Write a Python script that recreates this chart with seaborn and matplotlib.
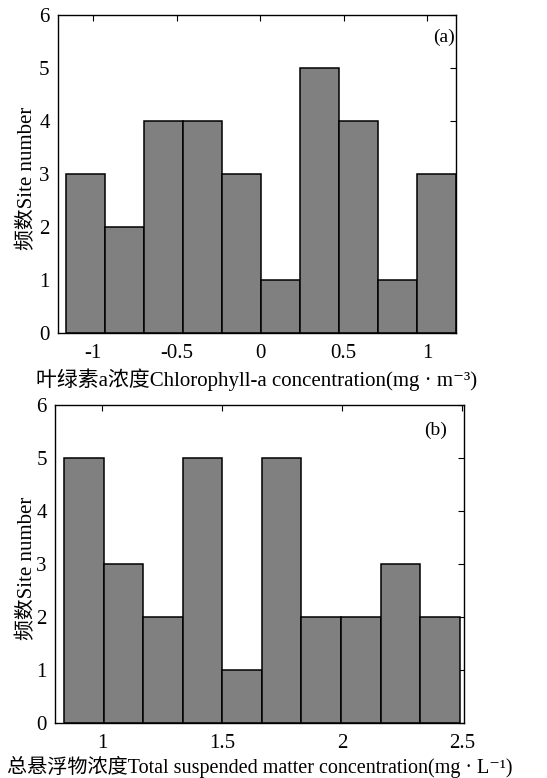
import matplotlib
matplotlib.use("Agg")
import matplotlib.pyplot as plt
import seaborn as sns
import numpy as np
import pandas as pd

# ---- data ----
counts_a = [3, 2, 4, 4, 3, 1, 5, 4, 1, 3]
start_a = -1.163
width_a = 0.234
ticks_a = [-1, -0.5, 0, 0.5, 1]
ticklabels_a = ["-1", "-0.5", "0", "0.5", "1"]

counts_b = [5, 3, 2, 5, 1, 5, 2, 2, 3, 2]
start_b = 0.841
width_b = 0.165
ticks_b = [1, 1.5, 2, 2.5]
ticklabels_b = ["1", "1.5", "2", "2.5"]

yticks = [0, 1, 2, 3, 4, 5, 6]
xlabel_a = "叶绿素a浓度Chlorophyll-a concentration(mg · m⁻³)"
xlabel_b = "总悬浮物浓度Total suspended matter concentration(mg · L⁻¹)"
ylabel = "频数Site number"

sns.set_theme(style="white")
FAM = ['Liberation Serif', 'Noto Sans CJK SC', 'DejaVu Sans']
plt.rcParams['font.family'] = FAM

fig = plt.figure(figsize=(5.47, 7.78), dpi=100)
ax_a = fig.add_axes([0.106, 0.572, 0.727, 0.4087])
ax_b = fig.add_axes([0.101, 0.0711, 0.748, 0.4083])

def draw(ax, counts, start, width, xlim, ticks, labels, xlabel, xlsize, xlpad,
         ylx, tag, tagpos):
    n = len(counts)
    edges = [float(start + width * i) for i in range(n + 1)]
    centers = [(edges[i] + edges[i + 1]) / 2 for i in range(n)]
    df = pd.DataFrame({"x": centers, "w": [float(c) for c in counts]})
    sns.histplot(data=df, x="x", weights="w", bins=edges, ax=ax,
                 color="#808080", alpha=1.0, edgecolor="black", linewidth=1.1)
    for p in ax.patches:
        p.set_clip_on(False)
    ax.set_xlim(*xlim)
    ax.set_ylim(0, 6)
    ax.set_xticks(ticks)
    ax.set_xticklabels(labels)
    ax.set_yticks(yticks)
    ax.tick_params(direction="in", top=True, right=True, length=4, width=0.8,
                   labelsize=15, colors="black")
    ax.tick_params(axis="x", pad=8)
    ax.tick_params(axis="y", pad=6)
    for s in ax.spines.values():
        s.set_color("black")
        s.set_linewidth(1.0)
        s.set_visible(True)
    ax.set_xlabel(xlabel, fontsize=xlsize, color="black", labelpad=xlpad, family=FAM)
    ax.set_ylabel(ylabel, fontsize=15, color="black", family=FAM)
    ax.yaxis.set_label_coords(ylx, 0.485)
    ax.text(tagpos[0], tagpos[1], tag, transform=ax.transAxes, fontsize=14,
            ha="center", va="center", color="black")

draw(ax_a, counts_a, start_a, width_a, (-1.211, 1.172), ticks_a, ticklabels_a,
     xlabel_a, 15, 4, -0.053, "(a)", (0.97, 0.93))
draw(ax_b, counts_b, start_b, width_b, (0.804, 2.511), ticks_b, ticklabels_b,
     xlabel_b, 14.5, 2, -0.044, "(b)", (0.93, 0.92))

fig.savefig("out.png", dpi=100)
